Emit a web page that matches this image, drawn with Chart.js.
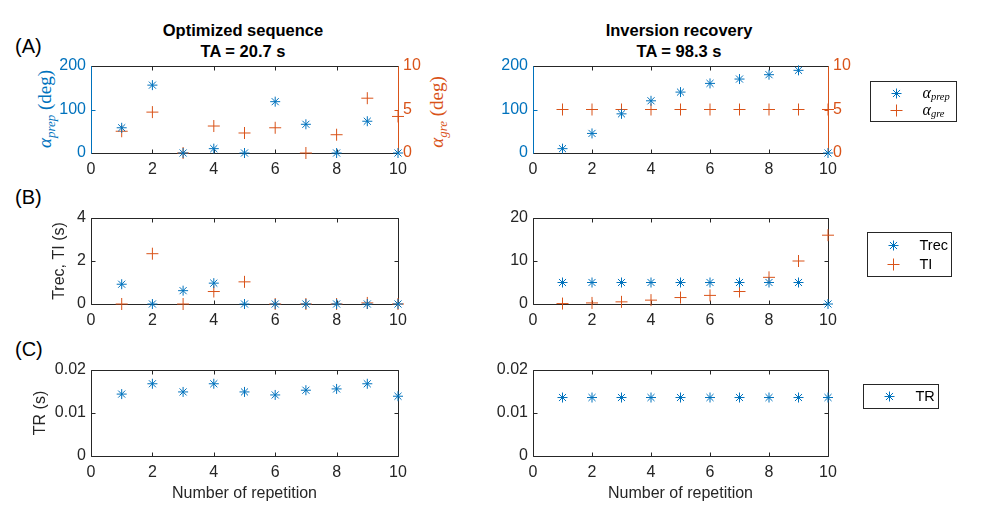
<!DOCTYPE html>
<html>
<head>
<meta charset="utf-8">
<script src="https://cdn.jsdelivr.net/npm/chart.js@4.4.0/dist/chart.umd.min.js"></script>
<style>
  body { margin: 0; width: 1003px; height: 526px; background: #fff; position: relative; overflow: hidden;
         font-family: "Liberation Sans", Arial, sans-serif; }
  canvas { position: absolute; }
  .lbl { position: absolute; white-space: nowrap; }
  .title { font-weight: bold; font-size: 16.5px; line-height: 21px; text-align: center; transform: translateX(-50%); color: #000; }
  .panel { font-size: 20px; color: #000; transform: translateY(-50%); }
  .math { font-family: "Liberation Serif", "DejaVu Serif", serif; font-size: 19px; transform: translate(-50%, -50%) rotate(-90deg); }
  .math i { font-style: italic; }
  .math sub { font-size: 13px; font-style: italic; vertical-align: -4px; line-height: 0; }
</style>
</head>
<body>
<div class="lbl title" style="left:243px; top:20px;">Optimized sequence<br>TA = 20.7 s</div>
<div class="lbl title" style="left:679px; top:20px;">Inversion recovery<br>TA = 98.3 s</div>
<div class="lbl panel" style="left:15px; top:46px;">(A)</div>
<div class="lbl panel" style="left:15px; top:197px;">(B)</div>
<div class="lbl panel" style="left:15px; top:349px;">(C)</div>
<div class="lbl math" style="left:45px; top:109px; color:#0072BD;"><i>α</i><sub>prep</sub> (deg)</div>
<div class="lbl math" style="left:437px; top:112px; color:#D95319;"><i>α</i><sub>gre</sub> (deg)</div>

<canvas id="optA" width="460" height="140" style="left:0px; top:46px;"></canvas>
<canvas id="irA" width="543" height="140" style="left:460px; top:46px;"></canvas>
<canvas id="optB" width="460" height="138" style="left:0px; top:198px;"></canvas>
<canvas id="irB" width="543" height="138" style="left:460px; top:198px;"></canvas>
<canvas id="optC" width="460" height="157" style="left:0px; top:350px;"></canvas>
<canvas id="irC" width="543" height="157" style="left:460px; top:350px;"></canvas>

<script>
// repetitions 1..10
const reps = [1, 2, 3, 4, 5, 6, 7, 8, 9, 10];

// (A) flip angles
const optAlphaPrep = [58, 156, 0, 10, 0, 118, 66, 0, 73, 0];
const optAlphaGre = [2.5, 4.7, 0, 3.1, 2.3, 2.9, 0, 2.1, 6.3, 4.2];
const irAlphaPrep = [10, 45, 90, 120, 140, 160, 170, 180, 190, 0];
const irAlphaGre = [5, 5, 5, 5, 5, 5, 5, 5, 5, 5];

// (B) Trec and TI (s)
const optTrec = [0.92, 0, 0.62, 0.97, 0, 0, 0, 0, 0, 0];
const optTI = [0, 2.34, 0, 0.58, 1.03, 0, 0, 0, 0.05, 0];
const irTrec = [5, 5, 5, 5, 5, 5, 5, 5, 5, 0];
const irTI = [0.1, 0.25, 0.5, 0.9, 1.5, 2, 2.9, 6.2, 10, 16];

// (C) TR (s)
const optTR = [0.0144, 0.0168, 0.0149, 0.0168, 0.0149, 0.0142, 0.0153, 0.0156, 0.0168, 0.0139];
const irTR = [0.0136, 0.0136, 0.0136, 0.0136, 0.0136, 0.0136, 0.0136, 0.0136, 0.0136, 0.0136];

// tick labels
const xTicks = [0, 2, 4, 6, 8, 10];
const alphaPrepTicks = [0, 100, 200];
const alphaGreTicks = [0, 5, 10];
const optBTicks = [0, 2, 4];
const irBTicks = [0, 10, 20];
const trTicks = [0, 0.01, 0.02];

const BLUE = '#0072BD';
const ORANGE = '#D95319';
const AXIS = '#262626';
const SANS = '"Liberation Sans", Arial, sans-serif';
const SERIF = '"Liberation Serif", "DejaVu Serif", serif';

function pts(vals) {
  return reps.map((x, i) => ({ x: x, y: vals[i] }));
}

function series(label, vals, style, color, axis) {
  return {
    label: label,
    data: pts(vals),
    yAxisID: axis || 'y',
    pointStyle: style,
    pointRadius: style === 'star' ? 5 : 6,
    pointBorderWidth: 1,
    pointBorderColor: color,
    pointBackgroundColor: color,
    borderColor: color,
    backgroundColor: color,
    showLine: false,
    clip: false
  };
}

function setTicks(arr) {
  return s => { s.ticks = arr.map(v => ({ value: v })); };
}

function drawMarker(ctx, style, x, y, r, color) {
  ctx.strokeStyle = color;
  ctx.lineWidth = 1;
  ctx.beginPath();
  ctx.moveTo(x - r, y); ctx.lineTo(x + r, y);
  ctx.moveTo(x, y - r); ctx.lineTo(x, y + r);
  if (style === 'star') {
    const d = r * Math.SQRT1_2;
    ctx.moveTo(x - d, y - d); ctx.lineTo(x + d, y + d);
    ctx.moveTo(x - d, y + d); ctx.lineTo(x + d, y - d);
  }
  ctx.stroke();
}

// box, inward ticks and outside legend in the MATLAB manner
const matlabAxes = {
  id: 'matlabAxes',
  beforeDatasetsDraw(chart, args, opts) {
    const { ctx, chartArea: a, scales } = chart;
    const r = v => Math.round(v) + 0.5;
    const seg = (x1, y1, x2, y2, c) => {
      ctx.strokeStyle = c; ctx.beginPath(); ctx.moveTo(x1, y1); ctx.lineTo(x2, y2); ctx.stroke();
    };
    const L = r(a.left), R = r(a.right), T = r(a.top), B = r(a.bottom);
    const tl = 4;
    const lc = opts.leftColor || AXIS;
    const rc = opts.rightColor || AXIS;
    ctx.save();
    ctx.lineWidth = 1;
    scales.x.ticks.forEach(t => {
      const p = r(scales.x.getPixelForValue(t.value));
      seg(p, B, p, B - tl, AXIS);
      seg(p, T, p, T + tl, AXIS);
    });
    scales.y.ticks.forEach(t => {
      const p = r(scales.y.getPixelForValue(t.value));
      seg(L, p, L + tl, p, lc);
      if (!scales.y2) seg(R, p, R - tl, p, rc);
    });
    if (scales.y2) {
      scales.y2.ticks.forEach(t => {
        const p = r(scales.y2.getPixelForValue(t.value));
        seg(R, p, R - tl, p, rc);
      });
    }
    seg(L, T, R, T, AXIS);
    seg(L, B, R, B, AXIS);
    seg(L, T, L, B, lc);
    seg(R, T, R, B, rc);
    ctx.restore();
  },
  afterDraw(chart, args, opts) {
    const lg = opts.legend;
    if (!lg) return;
    const { ctx, chartArea: a } = chart;
    const bx = Math.round(a.right + lg.dx) + 0.5;
    const by = Math.round(a.top + lg.dy) + 0.5;
    ctx.save();
    ctx.fillStyle = '#fff';
    ctx.fillRect(bx, by, lg.w, lg.h);
    ctx.strokeStyle = AXIS;
    ctx.lineWidth = 1;
    ctx.strokeRect(bx, by, lg.w, lg.h);
    lg.items.forEach((it, i) => {
      const ds = chart.data.datasets[i];
      const y = by + it.y;
      drawMarker(ctx, ds.pointStyle, bx + 26, y, ds.pointRadius, ds.pointBorderColor);
      ctx.fillStyle = '#000';
      ctx.textBaseline = 'middle';
      ctx.textAlign = 'left';
      let x = bx + 52;
      it.parts.forEach(p => {
        ctx.font = (p.italic ? 'italic ' : '') + p.size + 'px ' + (p.serif ? SERIF : SANS);
        ctx.fillText(p.t, x, y + (p.dy || 0));
        x += ctx.measureText(p.t).width;
      });
    });
    ctx.restore();
  }
};

function xScale(B, title) {
  return {
    type: 'linear', min: 0, max: 10,
    afterBuildTicks: setTicks(xTicks),
    afterFit: s => { s.height = B; },
    grid: { display: false, drawTicks: false },
    border: { display: false },
    ticks: { color: AXIS, font: { family: SANS, size: 16 }, padding: 7, maxRotation: 0, autoSkip: false },
    title: title ? { display: true, text: title, color: AXIS, font: { family: SANS, size: 16 }, padding: { top: 0, bottom: 4 } } : { display: false }
  };
}

function yScale(min, max, ticks, color, pos, title, titlePad) {
  return {
    type: 'linear', position: pos || 'left', min: min, max: max,
    afterBuildTicks: setTicks(ticks),
    grid: { display: false, drawTicks: false },
    border: { display: false },
    ticks: { color: color, font: { family: SANS, size: 16 }, padding: 5 },
    title: title ? { display: true, text: title, color: AXIS, font: { family: SANS, size: 16 }, padding: { top: titlePad, bottom: 0 } } : { display: false }
  };
}

// plot rectangles in page pixels
const colLeft = { canvas: 0, width: 460, left: 91, right: 398 };
const colRight = { canvas: 460, width: 543, left: 533, right: 828 };
const rowTop = { canvas: 46, top: 66, bottom: 153, B: 33 };
const rowMid = { canvas: 198, top: 218, bottom: 304, B: 32 };
const rowBot = { canvas: 350, top: 370, bottom: 456, B: 51 };

function build(id, col, row, datasets, scales, pluginOpts, hasRight) {
  const L = col.left - col.canvas;
  const R = col.canvas + col.width - col.right;
  const T = row.top - row.canvas;
  scales.x = xScale(row.B, scales.xTitle);
  delete scales.xTitle;
  scales.y.afterFit = s => { s.width = L; };
  if (scales.y2) scales.y2.afterFit = s => { s.width = R; };
  new Chart(document.getElementById(id), {
    type: 'scatter',
    data: { datasets: datasets },
    options: {
      responsive: false,
      animation: false,
      events: [],
      layout: { padding: { top: T, left: 0, bottom: 0, right: hasRight ? 0 : R } },
      scales: scales,
      plugins: { legend: { display: false }, tooltip: { enabled: false }, matlabAxes: pluginOpts }
    },
    plugins: [matlabAxes]
  });
}

// Row A
build('optA', colLeft, rowTop,
  [series('α prep', optAlphaPrep, 'star', BLUE), series('α gre', optAlphaGre, 'cross', ORANGE, 'y2')],
  { y: yScale(0, 200, alphaPrepTicks, BLUE), y2: yScale(0, 10, alphaGreTicks, ORANGE, 'right') },
  { leftColor: BLUE, rightColor: ORANGE }, true);

build('irA', colRight, rowTop,
  [series('α prep', irAlphaPrep, 'star', BLUE), series('α gre', irAlphaGre, 'cross', ORANGE, 'y2')],
  { y: yScale(0, 200, alphaPrepTicks, BLUE), y2: yScale(0, 10, alphaGreTicks, ORANGE, 'right') },
  { leftColor: BLUE, rightColor: ORANGE,
    legend: { dx: 42, dy: 15, w: 86, h: 40, items: [
      { y: 12, parts: [{ t: 'α', size: 16, italic: true, serif: true }, { t: 'prep', size: 10.5, italic: true, serif: true, dy: 4 }] },
      { y: 29, parts: [{ t: 'α', size: 16, italic: true, serif: true }, { t: 'gre', size: 10.5, italic: true, serif: true, dy: 4 }] }
    ] } }, true);

// Row B
build('optB', colLeft, rowMid,
  [series('Trec', optTrec, 'star', BLUE), series('TI', optTI, 'cross', ORANGE)],
  { y: yScale(0, 4, optBTicks, AXIS, 'left', 'Trec, TI (s)', 50) },
  {}, false);

build('irB', colRight, rowMid,
  [series('Trec', irTrec, 'star', BLUE), series('TI', irTI, 'cross', ORANGE)],
  { y: yScale(0, 20, irBTicks, AXIS) },
  { legend: { dx: 39, dy: 14, w: 84, h: 44, items: [
      { y: 13, parts: [{ t: 'Trec', size: 14.5 }] },
      { y: 32, parts: [{ t: 'TI', size: 14.5 }] }
    ] } }, false);

// Row C
build('optC', colLeft, rowBot,
  [series('TR', optTR, 'star', BLUE)],
  { y: yScale(0, 0.02, trTicks, AXIS, 'left', 'TR (s)', 31), xTitle: 'Number of repetition' },
  {}, false);

build('irC', colRight, rowBot,
  [series('TR', irTR, 'star', BLUE)],
  { y: yScale(0, 0.02, trTicks, AXIS), xTitle: 'Number of repetition' },
  { legend: { dx: 35, dy: 14, w: 75, h: 24, items: [
      { y: 12, parts: [{ t: 'TR', size: 14.5 }] }
    ] } }, false);
</script>
</body>
</html>
